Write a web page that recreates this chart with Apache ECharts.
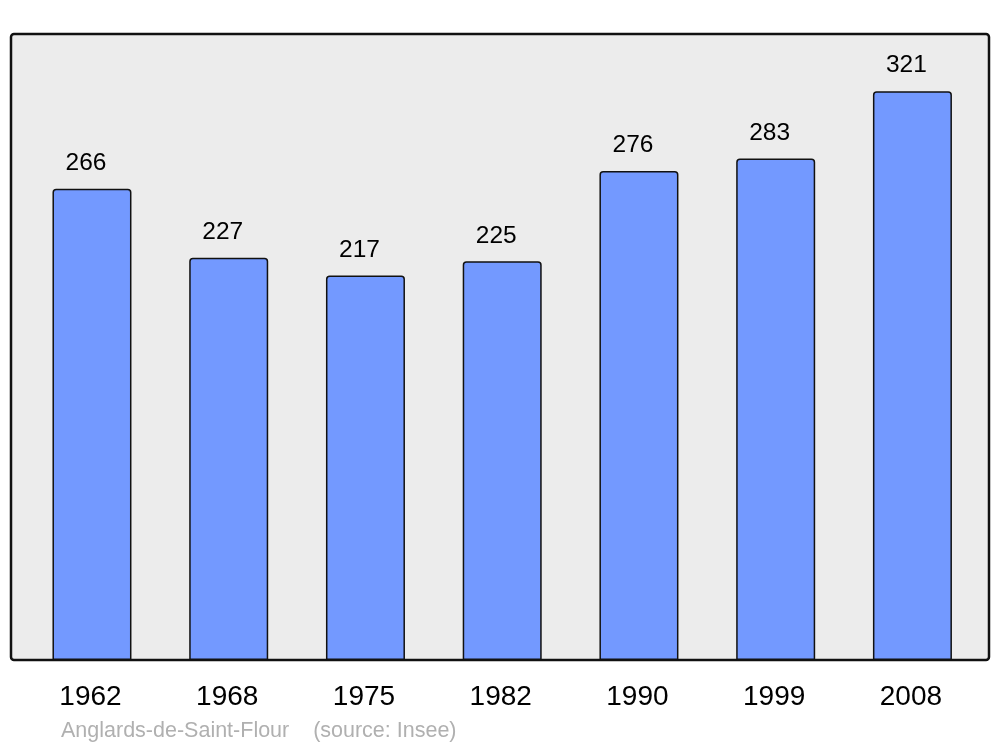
<!DOCTYPE html>
<html>
<head>
<meta charset="utf-8">
<script src="https://cdn.jsdelivr.net/npm/echarts@6/dist/echarts.min.js"></script>
<style>
html,body{margin:0;padding:0;background:#fff;}
#c{width:1000px;height:747px;}
</style>
</head>
<body>
<div id="c"></div>
<script>
var years = ['1962','1968','1975','1982','1990','1999','2008'];
var population = [266, 227, 217, 225, 276, 283, 321];
var caption = 'Anglards-de-Saint-Flour    (source: Insee)';

var chart = echarts.init(document.getElementById('c'), null, {renderer:'canvas'});
chart.setOption({
  animation: false,
  backgroundColor: '#ffffff',
  graphic: [
    {type:'rect', z:-10, silent:true,
     shape:{x:11, y:34, width:978, height:626, r:3},
     style:{fill:'#ececec', stroke:'#111', lineWidth:2.5}},
    {type:'text', left:61, top:720,
     style:{text:caption, fill:'#b0b0b0', font:'21.5px "Liberation Sans", Arial, sans-serif'}}
  ],
  grid: {left:23.6, right:19.2, top:34, bottom:87, containLabel:false},
  xAxis: {
    type:'category', data:years,
    axisLine:{show:false}, axisTick:{show:false},
    axisLabel:{color:'#000', fontSize:28, fontFamily:'"Liberation Sans", Arial, sans-serif', margin:23,
               padding:[0,3,0,0]}
  },
  yAxis: {
    type:'value', min:0, max:353.3,
    show:false, splitLine:{show:false}
  },
  series: [{
    type:'bar', data:population, barWidth:79,
    itemStyle:{color:'#7399ff', borderColor:'#111', borderWidth:1.5, borderRadius:[3,3,0,0]},
    label:{show:true, position:'top', distance:13, offset:[-6,0], color:'#000', fontSize:24.5,
           fontFamily:'"Liberation Sans", Arial, sans-serif'}
  }]
});
</script>
</body>
</html>
